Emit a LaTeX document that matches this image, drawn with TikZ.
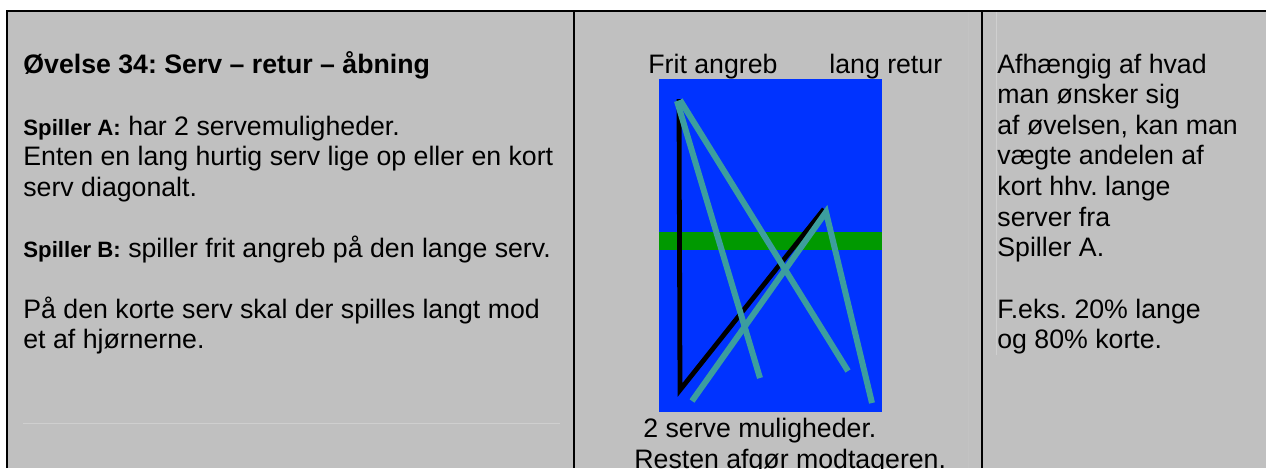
\documentclass[tikz,border=0pt]{standalone}
\usepackage{fontspec}
\setmainfont{Liberation Sans}
\frenchspacing
\definecolor{bg}{HTML}{C0C0C0}
\definecolor{courtblue}{HTML}{0033FF}
\definecolor{netgreen}{HTML}{009900}
\definecolor{shotteal}{RGB}{60,158,158}
\definecolor{faint}{HTML}{CFCFCF}
\begin{document}
\begin{tikzpicture}[x=0.5pt,y=-0.5pt,
  txt/.style={anchor=base west,inner sep=0pt,font=\fontsize{13.35}{15.3}\selectfont},
  rule/.style={line width=1pt,black},
  shot/.style={line width=3pt,shotteal,line cap=butt,line join=miter},
  serveline/.style={line width=2.4pt,black,line join=miter}]
\useasboundingbox (0,0) rectangle (1266,468);
\fill[white] (0,0) rectangle (1266,468);
\fill[bg] (7,11) rectangle (1266,468);
% faint guide lines
\draw[faint,line width=0.5pt] (23,423) -- (560,423);
\draw[faint,line width=0.5pt] (996,12) -- (996,355);
\draw[bg!95!white,line width=0.5pt] (968,12) -- (968,468);
% table rules
\draw[rule] (7,468) -- (7,11) -- (1266,11);
\draw[rule] (574,11) -- (574,468);
\draw[rule] (982,11) -- (982,468);
% column 1
\node[txt,font=\fontsize{13.35}{15.3}\selectfont\bfseries] (title) at (23,73) {Øvelse 34: Serv – retur – åbning};
\node[txt] (a1) at (23,135) {{\fontsize{11.1}{13}\selectfont\bfseries Spiller A:} har 2 servemuligheder.};
\node[txt] (a2) at (23,165.5) {Enten en lang hurtig serv lige op eller en kort};
\node[txt] (a3) at (23,196) {serv diagonalt.};
\node[txt] (b1) at (23,257) {{\fontsize{11.1}{13}\selectfont\bfseries Spiller B:} spiller frit angreb på den lange serv.};
\node[txt] (c1) at (23,318) {På den korte serv skal der spilles langt mod};
\node[txt] (c2) at (23,348.5) {et af hjørnerne.};
% column 2
\node[txt] (frit) at (648,73) {Frit angreb};
\node[txt] (lang) at (829,73) {lang retur};
\fill[courtblue] (659,79) rectangle (882,412);
\fill[netgreen] (659,232) rectangle (882,250);
\coordinate (p1) at (679,99);
\coordinate (p2) at (680,390);
\coordinate (p3) at (824,209);
\draw[serveline] (p1) -- (p2) -- (p3);
\coordinate (q1) at (677,101);
\coordinate (q2) at (760,378);
\coordinate (q3) at (680,100);
\coordinate (q4) at (848,371);
\coordinate (r1) at (692,401);
\coordinate (r2) at (826,212);
\coordinate (r3) at (872,403);
\draw[shot] (q1) -- (q2);
\draw[shot] (q3) -- (q4);
\draw[shot] (r1) -- (r2) -- (r3);
\node[txt] (m1) at (643,437) {2 serve muligheder.};
\node[txt] (m2) at (634,468) {Resten afgør modtageren.};
% column 3
\node[txt] (d1) at (997,73) {Afhængig af hvad};
\node[txt] (d2) at (997,103.5) {man ønsker sig};
\node[txt] (d3) at (997,134) {af øvelsen, kan man};
\node[txt] (d4) at (997,164.5) {vægte andelen af};
\node[txt] (d5) at (997,195) {kort hhv. lange};
\node[txt] (d6) at (997,226) {server fra};
\node[txt] (d7) at (997,256.5) {Spiller A.};
\node[txt] (e1) at (997,318) {F.eks. 20\% lange};
\node[txt] (e2) at (997,348.5) {og 80\% korte.};
\end{tikzpicture}
\end{document}
